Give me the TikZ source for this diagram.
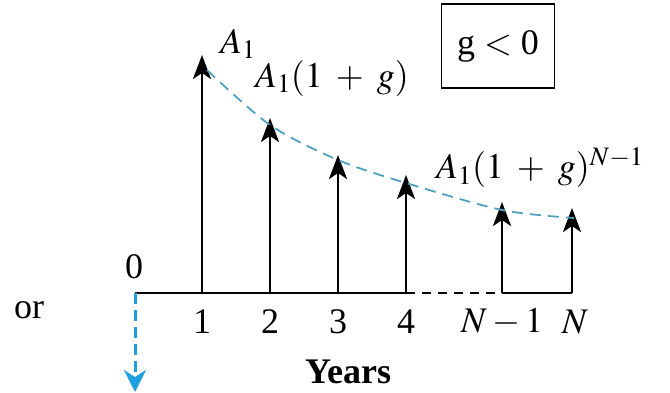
\documentclass[tikz,border=0pt]{standalone}
\usepackage{mathptmx}
\usepackage{fontspec}
\setmainfont{Liberation Serif}
\usetikzlibrary{arrows.meta}
\definecolor{curveblue}{RGB}{80,160,190}
\definecolor{cashblue}{RGB}{30,160,225}

\begin{document}
\begin{tikzpicture}[x=1pt, y=1pt, line width=2.8pt,
    font=\fontsize{36}{42}\selectfont,
    flow/.style={-{Stealth[length=24pt, width=18pt, inset=6pt]}}]

    \useasboundingbox (0,0) rectangle (670,392);

    % Points sur l'axe
    \foreach \n/\x in {o/135, 1/202, 2/270, 3/338, 4/406, m/502, N/572}{
        \coordinate (t\n) at (\x,99);
    }
    % Sommets des flèches
    \foreach \n/\x/\y in {1/202/337, 2/270/274, 3/338/237, 4/406/217, m/502/190, N/572/184}{
        \coordinate (h\n) at (\x,\y);
    }
    % Points de la courbe
    \foreach \n/\x/\y in {1/207/322, 2/270/267, 3/338/232, 4/406/209, m/502/182, N/574/174}{
        \coordinate (c\n) at (\x,\y);
    }

    % Axe
    \draw (to) -- (t4);
    \draw[dash pattern=on 9pt off 7pt] (t4) -- (tm);
    \draw (tm) -- (tN);

    % Flèches
    \foreach \n in {1,2,3,4,m,N}{
        \draw[flow] (t\n) -- (h\n);
    }

    % Courbe en pointillés
    \draw[curveblue, line width=1.8pt, dash pattern=on 11pt off 7pt]
        plot[smooth] coordinates {(c1) (c2) (c3) (c4) (cm) (cN)};

    % Flèche vers le bas
    \coordinate (bot) at (135,0);
    \draw[cashblue, line width=3pt, dash pattern=on 11pt off 6pt,
        -{Stealth[length=22pt, width=22pt, inset=7pt]}] (to) -- (bot);

    % Légendes de l'axe
    \foreach \n/\lab in {1/1, 2/2, 3/3, 4/4, m/$N - 1$}{
        \node (l\n) at (t\n |- 0,70) {\lab};
    }
    \node (lN) at (575,70) {$N$};
    \node (zero) at (134,125) {0};
    \node (or) at (29,82) {or};
    \node[font=\fontsize{36}{42}\selectfont\bfseries] (years) at (348,20) {Years};

    % Montants
    \node (a1) at (238,348) {$A_1$};
    \node (a2) at (332,314) {$A_1(1\;+\;g)$};
    \node (aN) at (540,224) {$A_1(1\;+\;g)^{N-1}$};

    % Cadre
    \node[draw, line width=1.6pt, minimum width=113pt, minimum height=84pt] (cond) at (498,346) {g $<$ 0};

\end{tikzpicture}
\end{document}
